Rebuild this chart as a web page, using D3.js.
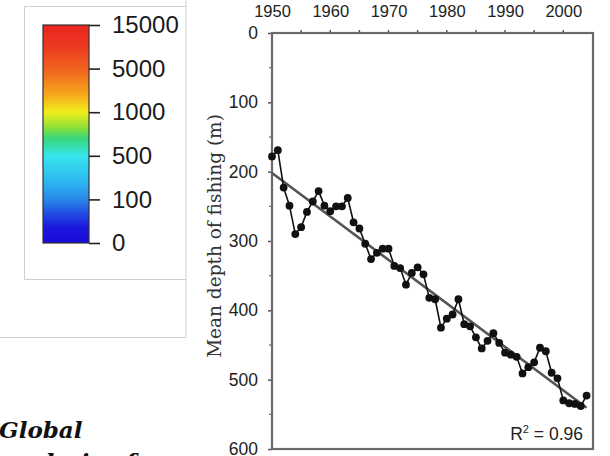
<!DOCTYPE html>
<html>
<head>
    <meta charset="utf-8" />
    <title>Mean depth of fishing</title>
    <script src="https://cdnjs.cloudflare.com/ajax/libs/d3/7.8.5/d3.min.js" type="text/JavaScript"></script>
    <style>
      body { margin: 0; background: #fff; }
    </style>
</head>
<body>
    <div id="viz">
      <svg style="width:610px;height:456px;display:block;" ></svg>
    </div>
  <script>
    // values
    let years = [1950, 1951, 1952, 1953, 1954, 1955, 1956, 1957, 1958, 1959,
                 1960, 1961, 1962, 1963, 1964, 1965, 1966, 1967, 1968, 1969,
                 1970, 1971, 1972, 1973, 1974, 1975, 1976, 1977, 1978, 1979,
                 1980, 1981, 1982, 1983, 1984, 1985, 1986, 1987, 1988, 1989,
                 1990, 1991, 1992, 1993, 1994, 1995, 1996, 1997, 1998, 1999,
                 2000, 2001, 2002, 2003, 2004]
    let depths = [178, 169, 223, 249, 290, 280, 258, 243, 228, 249,
                  257, 250, 250, 238, 273, 282, 304, 326, 317, 311,
                  311, 336, 339, 363, 346, 338, 348, 382, 384, 425,
                  412, 406, 384, 420, 423, 439, 455, 444, 433, 447,
                  461, 464, 467, 491, 482, 475, 454, 459, 490, 498,
                  530, 534, 535, 538, 523]
    let yearTicks = [1950, 1960, 1970, 1980, 1990, 2000]
    let depthTicks = [0, 100, 200, 300, 400, 500, 600]
    let scaleLabels = ['15000', '5000', '1000', '500', '100', '0']
    let rSquared = '0.96'

    let svg = d3.select('svg')

    // legend panel lines (cropped figure)
    svg.append('path')
      .attr('d', 'M186,0 V337.5 H0')
      .attr('fill', 'none').attr('stroke', '#cfcfcf').attr('stroke-width', 1)
    svg.append('path')
      .attr('d', 'M186,6.5 H24.5 V279.5 H186')
      .attr('fill', 'none').attr('stroke', '#cfcfcf').attr('stroke-width', 1)

    // colour bar
    let jet = ['#1a0ad8', '#1c18dc', '#2048e2', '#2a88ea', '#2cb6f0', '#36e6ec',
               '#3ad87a', '#8ee038', '#f0ee1c', '#f6a81c', '#f26a1e', '#ec3a20', '#e82420']
    let grad = svg.append('defs').append('linearGradient')
      .attr('id', 'jet').attr('x1', 0).attr('x2', 0).attr('y1', 1).attr('y2', 0)
    let stopPos = [0, 0.07, 0.13, 0.2, 0.28, 0.4, 0.48, 0.53, 0.6, 0.68, 0.78, 0.9, 1]
    jet.forEach(function(c, i) {
      grad.append('stop').attr('offset', stopPos[i]).attr('stop-color', c)
    })
    svg.append('rect')
      .attr('x', 43).attr('y', 25).attr('width', 46).attr('height', 218)
      .attr('fill', 'url(#jet)').attr('stroke', '#333').attr('stroke-width', 1.2)

    let barScale = d3.scalePoint().domain(scaleLabels).range([25, 243])
    let barAxis = d3.axisRight(barScale).tickSize(11).tickPadding(12)
    let barG = svg.append('g').attr('transform', 'translate(89,0)').call(barAxis)
    barG.select('.domain').remove()
    barG.selectAll('line').attr('stroke', '#222').attr('stroke-width', 1.6)
    barG.selectAll('text')
      .attr('font-family', 'Liberation Sans, Arial, sans-serif')
      .attr('font-size', 24).attr('fill', '#1a1a1a')

    // depth chart
    let xScale = d3.scaleLinear().domain([1950, 2005.1]).range([272, 593])
    let yScale = d3.scaleLinear().domain([0, 600]).range([33, 449])

    let xAxis = d3.axisTop(xScale).tickValues(yearTicks).tickSize(0).tickPadding(16).tickFormat(d3.format('d'))
    let xG = svg.append('g').attr('transform', 'translate(0,33)').call(xAxis)
    xG.select('.domain').remove()
    xG.selectAll('text')
      .attr('font-family', 'Liberation Sans, Arial, sans-serif')
      .attr('font-size', 16.5).attr('fill', '#222')

    let yAxis = d3.axisLeft(yScale).tickValues(depthTicks).tickSize(4).tickPadding(10)
    let yG = svg.append('g').attr('transform', 'translate(272,0)').call(yAxis)
    yG.select('.domain').remove()
    yG.selectAll('line').attr('stroke', '#555').attr('stroke-width', 1.5)
    yG.selectAll('text')
      .attr('font-family', 'Liberation Sans, Arial, sans-serif')
      .attr('font-size', 17.5).attr('fill', '#222')

    // minor ticks
    svg.append('g').selectAll('line')
      .data([50, 150, 250, 350, 450, 550])
      .enter().append('line')
      .attr('x1', 269).attr('x2', 272)
      .attr('y1', function(d) { return yScale(d) }).attr('y2', function(d) { return yScale(d) })
      .attr('stroke', '#666').attr('stroke-width', 1.2)
    svg.append('g').selectAll('line')
      .data([1955, 1960, 1965, 1970, 1975, 1980, 1985, 1990, 1995, 2000])
      .enter().append('line')
      .attr('x1', function(d) { return xScale(d) }).attr('x2', function(d) { return xScale(d) })
      .attr('y1', 30).attr('y2', 34)
      .attr('stroke', '#555').attr('stroke-width', 1.5)

    // frame
    svg.append('rect')
      .attr('x', xScale(1950)).attr('y', yScale(0))
      .attr('width', xScale.range()[1] - xScale(1950))
      .attr('height', yScale(600) - yScale(0))
      .attr('fill', 'none').attr('stroke', '#6a6a6a').attr('stroke-width', 2.2)

    // least squares trend
    let mx = d3.mean(years), my = d3.mean(depths)
    let sxy = d3.sum(years, function(d, i) { return (d - mx) * (depths[i] - my) })
    let sxx = d3.sum(years, function(d) { return (d - mx) * (d - mx) })
    let slope = sxy / sxx
    let trend = [years[0], years[years.length - 1]].map(function(yr) {
      return { year: yr, depth: my + slope * (yr - mx) }
    })
    svg.append('path')
      .attr('d', d3.line()
        .x(function(d) { return xScale(d.year) })
        .y(function(d) { return yScale(d.depth) })(trend))
      .attr('fill', 'none').attr('stroke', '#555').attr('stroke-width', 2.6)

    let pts = years.map(function(yr, i) { return { year: yr, depth: depths[i] } })
    svg.append('path')
      .attr('d', d3.line()
        .x(function(d) { return xScale(d.year) })
        .y(function(d) { return yScale(d.depth) })(pts))
      .attr('fill', 'none').attr('stroke', '#111').attr('stroke-width', 1.6)
    svg.append('g').selectAll('circle')
      .data(pts).enter().append('circle')
      .attr('cx', function(d) { return xScale(d.year) })
      .attr('cy', function(d) { return yScale(d.depth) })
      .attr('r', 3.9)
      .attr('fill', '#111')

    let r2 = svg.append('text')
      .attr('x', 583).attr('y', 440)
      .attr('text-anchor', 'end')
      .attr('font-family', 'Liberation Sans, Arial, sans-serif')
      .attr('font-size', 17.5).attr('fill', '#222')
    r2.append('tspan').text('R')
    r2.append('tspan').attr('font-size', 11).attr('dy', -7).text('2')
    r2.append('tspan').attr('dy', 7).text(' = ' + rSquared)

    svg.append('text')
      .attr('transform', 'translate(221,236) rotate(-90)')
      .attr('text-anchor', 'middle')
      .attr('font-family', 'DejaVu Serif, serif')
      .attr('font-size', 18.5).attr('fill', '#333')
      .text('Mean depth of fishing (m)')

    // caption fragment from the page below
    svg.append('text')
      .attr('x', -1).attr('y', 438)
      .attr('font-family', 'DejaVu Serif, serif')
      .attr('font-weight', 'bold').attr('font-style', 'italic')
      .attr('font-size', 23).attr('fill', '#111')
      .text('Global')
    svg.append('text')
      .attr('x', -1).attr('y', 470)
      .attr('font-family', 'DejaVu Serif, serif')
      .attr('font-weight', 'bold').attr('font-style', 'italic')
      .attr('font-size', 23).attr('fill', '#111')
      .text('analysis of')
  </script>
</body>
</html>
